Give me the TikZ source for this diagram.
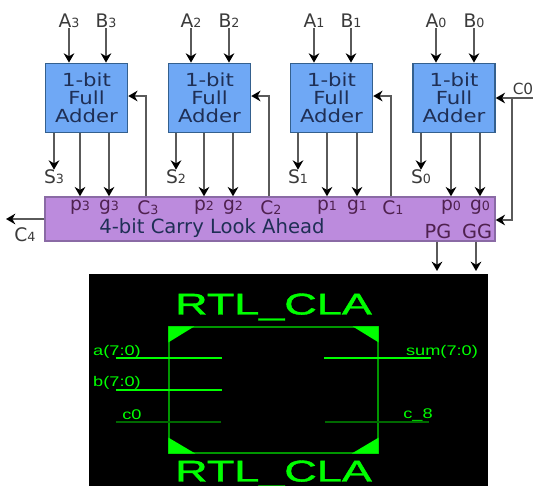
\documentclass[tikz,border=0pt]{standalone}
\usepackage{fontspec}
\setmainfont{DejaVu Sans}
\newfontfamily\rtlfont{Liberation Sans}
\newfontfamily\rtlheavy[FakeBold=1.2]{Liberation Sans}
\usetikzlibrary{arrows.meta}
\definecolor{wire}{HTML}{5A5A5A}
\definecolor{ink}{HTML}{3A3A3A}
\definecolor{blueedge}{HTML}{34608E}
\definecolor{bluefill}{HTML}{6FA8F5}
\definecolor{purplefill}{HTML}{BC8BDD}
\definecolor{purpleedge}{HTML}{8A6AA5}
\definecolor{labelink}{HTML}{1F2F55}
\definecolor{vgreen}{RGB}{0,255,0}
\definecolor{rimgreen}{RGB}{0,150,0}
\definecolor{dimgreen}{RGB}{0,105,0}
\newcommand{\subd}[1]{{\fontsize{9.5}{9.5}\selectfont #1}}
\newcommand{\wlabel}[1]{\scalebox{1.3}[1]{\rtlfont\fontsize{10.5}{11}\selectfont #1}}
\newcommand{\faline}[1]{\scalebox{1.18}[1]{#1}}
\newcommand{\fatext}{\faline{1-bit}\\\faline{Full}\\\faline{Adder}}
\tikzset{
  adder/.style={draw=blueedge,line width=1.1pt,fill=bluefill,minimum width=61.5pt,minimum height=52pt,inner sep=0pt,
    align=center,text=labelink,font=\fontsize{13.5}{13.5}\selectfont},
  sig/.style={inner sep=0pt,text=ink,font=\fontsize{14}{14}\selectfont},
  insig/.style={inner sep=0pt,text=labelink!70!purple,font=\fontsize{14}{14}\selectfont},
  wirearrow/.style={draw=wire,line width=1.2pt,-{Stealth[length=7pt,width=8pt,color=black]}},
  rtl/.style={inner sep=0pt,text=vgreen},
  portlabel/.style={inner sep=0pt,text=vgreen},
  buswire/.style={draw=vgreen,line width=1.1pt},
  thinwire/.style={draw=dimgreen,line width=.9pt},
  cornermark/.style={fill=vgreen,draw=none},
}
\begin{document}
\begin{tikzpicture}[x=.75pt,y=-.75pt]
\useasboundingbox (0,0) rectangle (533,486);
% adders
\node[adder] (fa3) at (86.5,98) {\fatext};
\node[adder] (fa2) at (209.5,98) {\fatext};
\node[adder] (fa1) at (331.5,98) {\fatext};
\node[adder] (fa0) at (454,98) {\fatext};
\node[draw=purpleedge,line width=1.1pt,fill=purplefill,minimum width=337.5pt,minimum height=33pt,inner sep=0pt] (cla) at (270,219) {};
\node[inner sep=0pt,text=labelink,font=\fontsize{14.7}{14.7}\selectfont] (clatext) at (212,228) {4-bit Carry Look Ahead};
% inputs
\node[sig] (A3) at (69,21) {A\subd{3}};
\node[sig] (B3) at (106,21) {B\subd{3}};
\node[sig] (A2) at (191,21) {A\subd{2}};
\node[sig] (B2) at (229,21) {B\subd{2}};
\node[sig] (A1) at (314,21) {A\subd{1}};
\node[sig] (B1) at (351,21) {B\subd{1}};
\node[sig] (A0) at (436,21) {A\subd{0}};
\node[sig] (B0) at (474,21) {B\subd{0}};
\foreach \n/\b in {A3/fa3,B3/fa3,A2/fa2,B2/fa2,A1/fa1,B1/fa1,A0/fa0,B0/fa0}
  \draw[wirearrow] (\n.south) -- (\n.south |- \b.north);
% sums
\node[sig] (S3) at (54,177) {S\subd{3}};
\node[sig] (S2) at (176,177) {S\subd{2}};
\node[sig] (S1) at (298,177) {S\subd{1}};
\node[sig] (S0) at (421,177) {S\subd{0}};
\foreach \n/\b in {S3/fa3,S2/fa2,S1/fa1,S0/fa0}
  \draw[wirearrow] (\n.north |- \b.south) -- (\n.north);
% p and g
\node[insig] (p3) at (80,207) {p\subd{3}};
\node[insig] (g3) at (109,207) {g\subd{3}};
\node[insig] (p2) at (204,207) {p\subd{2}};
\node[insig] (g2) at (233,207) {g\subd{2}};
\node[insig] (p1) at (327,207) {p\subd{1}};
\node[insig] (g1) at (357,207) {g\subd{1}};
\node[insig] (p0) at (451,207) {p\subd{0}};
\node[insig] (g0) at (480,207) {g\subd{0}};
\foreach \n/\b in {p3/fa3,g3/fa3,p2/fa2,g2/fa2,p1/fa1,g1/fa1,p0/fa0,g0/fa0}
  \draw[wirearrow] (\n.center |- \b.south) -- (\n.center |- cla.north);
% carries
\node[insig] (C3) at (148,208) {C\subd{3}};
\node[insig] (C2) at (271,208) {C\subd{2}};
\node[insig] (C1) at (393,208) {C\subd{1}};
\coordinate (c3up) at (146,96);
\coordinate (c2up) at (269,96);
\coordinate (c1up) at (391,96);
\draw[wirearrow] (cla.north -| c3up) -- (c3up) -- (fa3.east |- c3up);
\draw[wirearrow] (cla.north -| c2up) -- (c2up) -- (fa2.east |- c2up);
\draw[wirearrow] (cla.north -| c1up) -- (c1up) -- (fa1.east |- c1up);
% c0
\node[sig,font=\fontsize{11.5}{11.5}\selectfont] (C0) at (523,89) {C0};
\coordinate (c0in) at (533,98);
\coordinate (c0turn) at (512,98);
\coordinate (c0low) at (512,220);
\draw[wirearrow] (c0in) -- (fa0.east |- c0in);
\draw[wirearrow] (c0turn) -- (c0low) -- (cla.east |- c0low);
% c4
\node[sig] (C4) at (25,235) {C\subd{4}};
\coordinate (c4end) at (6,219);
\draw[wirearrow] (cla.west |- c4end) -- (c4end);
% PG, GG
\node[insig,font=\fontsize{14.5}{14.5}\selectfont] (PG) at (438,231) {PG};
\node[insig,font=\fontsize{14.5}{14.5}\selectfont] (GG) at (477,231) {GG};
\coordinate (pgend) at (437,271);
\coordinate (ggend) at (476,271);
\draw[wirearrow] (cla.south -| pgend) -- (pgend);
\draw[wirearrow] (cla.south -| ggend) -- (ggend);
% schematic
\node[fill=black,draw=none,minimum width=299.25pt,minimum height=159pt,inner sep=0pt] (panel) at (288.5,380) {};
\node[draw=rimgreen,line width=.9pt,minimum width=156.75pt,minimum height=94.5pt,inner sep=0pt] (cell) at (273.5,390) {};
\fill[cornermark] (cell.north west) -- ++(26,0) -- ++(-26,16) -- cycle;
\fill[cornermark] (cell.north east) -- ++(-26,0) -- ++(26,16) -- cycle;
\fill[cornermark] (cell.south west) -- ++(27,0) -- ++(-27,-16) -- cycle;
\fill[cornermark] (cell.south east) -- ++(-27,0) -- ++(27,-16) -- cycle;
\node[rtl] (top) at (273.5,307) {\scalebox{1.5}[1]{\rtlheavy\fontsize{22.5}{22.5}\selectfont RTL\_CLA}};
\begin{scope}
\clip (89,274) rectangle (488,486);
\node[rtl] (bottom) at (273.5,474) {\scalebox{1.5}[1]{\rtlheavy\fontsize{22.5}{22.5}\selectfont RTL\_CLA}};
\end{scope}
\node[portlabel] (a) at (117,352) {\wlabel{a(7:0)}};
\node[portlabel] (b) at (117,383) {\wlabel{b(7:0)}};
\node[portlabel] (c) at (132,415) {\wlabel{c0}};
\node[portlabel] (sum) at (442,352) {\wlabel{sum(7:0)}};
\node[portlabel] (c8) at (418,415) {\wlabel{c\_8}};
\coordinate (ai) at (222,358);
\coordinate (bi) at (222,390);
\coordinate (ci) at (221,422);
\coordinate (si) at (324,358);
\coordinate (c8i) at (325,422);
\coordinate (ao) at (116,358);
\coordinate (bo) at (116,390);
\coordinate (co) at (116,422);
\coordinate (so) at (431,358);
\coordinate (c8o) at (429,422);
\draw[buswire] (ao) -- (ai);
\draw[buswire] (bo) -- (bi);
\draw[thinwire] (co) -- (ci);
\draw[buswire] (si) -- (so);
\draw[thinwire] (c8i) -- (c8o);
\end{tikzpicture}
\end{document}
